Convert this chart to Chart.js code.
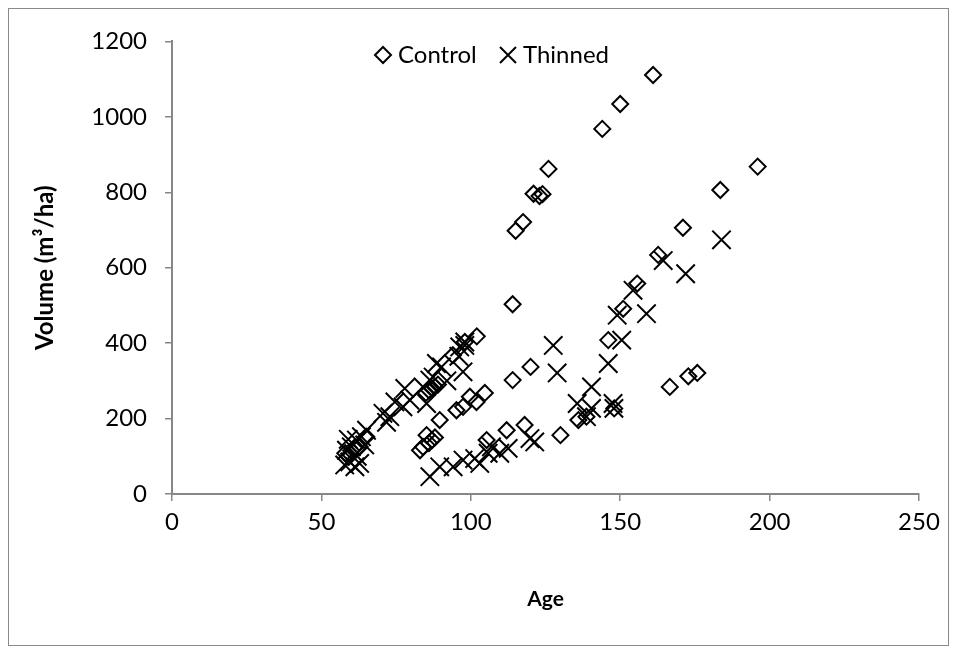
<!DOCTYPE html>
<html>
<head>
<meta charset="utf-8">
<script src="https://cdn.jsdelivr.net/npm/chart.js@4.4.1/dist/chart.umd.min.js"></script>
<style>
    html, body { margin: 0; padding: 0; background: #fff; }
    #frame { position: absolute; left: 8px; top: 8px; width: 939px; height: 636px; border: 1px solid #8a8a8a; }
    canvas { display: block; }
</style>
</head>
<body>
<div id="frame"><canvas id="chart" width="939" height="636"></canvas></div>
<script>
// Control stands (diamonds)
const controlAge = [161, 150, 144, 126, 121, 123, 124, 117.5, 115, 114, 102, 98,
    196, 183.5, 171, 162.7, 155.7, 151, 146, 148, 136, 138.7, 130, 166.6, 172.8, 175.8,
    120, 114, 104.7, 101.9, 99.7, 95.2, 97.4, 89.6, 94,
    85, 86, 87, 88, 89,
    112, 118, 105.3,
    85.2, 83, 84, 86, 87, 88,
    58, 59, 60, 61, 62.8, 65];
const controlVolume = [1111, 1034, 968, 862, 796, 790, 795, 721, 698, 503, 418, 403,
    868, 806, 706, 634, 558, 491, 408, 227, 196, 205, 156, 284, 312, 321,
    337, 302, 268, 244, 258, 222, 231, 196, 368,
    268, 275, 280, 284, 290,
    169, 183, 143,
    156, 116, 125, 135, 143, 150,
    108, 100, 115, 122, 125, 152];

// Thinned stands (crosses)
const thinnedAge = [57.8, 59.5, 61.2, 62.8, 58.4, 60, 61.7, 63.4, 65.1, 64.5, 59, 62,
    70.6, 72.9, 74.6, 77.9, 77.3, 79.6, 71.8,
    84, 85.2, 86.3, 87.4, 88.5, 90.2, 92, 96.3, 98, 97.4, 98, 96,
    86.3, 89.6, 94.1, 97.4, 101.3, 103, 105.8, 106.9, 109.7, 112.5, 119.8, 121.4,
    127.6, 128.9, 140.4, 135.6, 140.4, 138.7, 147.6, 147.9, 146, 150.5, 149, 158.8, 154.3, 164.4, 183.9, 171.9];
const thinnedVolume = [77, 85, 72, 81, 116, 125, 143, 152, 169, 130, 145, 100,
    214, 205, 244, 280, 231, 249, 190,
    284, 240, 302, 310, 346, 337, 300, 390, 394, 324, 403, 365,
    46, 72, 72, 90, 94, 81, 108, 125, 108, 121, 147, 138,
    394, 321, 284, 240, 227, 205, 240, 227, 346, 408, 474, 478, 540, 619, 674, 584];

const xTicks = [0, 50, 100, 150, 200, 250];
const yTicks = [0, 200, 400, 600, 800, 1000, 1200];

const toPoints = (xs, ys) => xs.map((x, i) => ({ x: x, y: ys[i] }));

const fontFamily = 'Lato, "Open Sans", sans-serif';
const axisGray = '#878787';

// Excel-style legend sitting inside the plot
const legendPlugin = {
    id: 'insideLegend',
    afterDraw(chart) {
        const ctx = chart.ctx;
        const y = 46;
        ctx.save();
        ctx.strokeStyle = '#000';
        ctx.lineWidth = 2;
        // diamond
        ctx.beginPath();
        ctx.moveTo(374 - 8, y);
        ctx.lineTo(374, y - 8);
        ctx.lineTo(374 + 8, y);
        ctx.lineTo(374, y + 8);
        ctx.closePath();
        ctx.stroke();
        // cross
        ctx.beginPath();
        ctx.moveTo(499 - 8, y - 8);
        ctx.lineTo(499 + 8, y + 8);
        ctx.moveTo(499 + 8, y - 8);
        ctx.lineTo(499 - 8, y + 8);
        ctx.stroke();
        ctx.fillStyle = '#000';
        ctx.font = '24px ' + fontFamily;
        ctx.textBaseline = 'middle';
        ctx.textAlign = 'left';
        ctx.fillText('Control', 389, y);
        ctx.fillText('Thinned', 514, y);
        ctx.restore();
    }
};

new Chart(document.getElementById('chart'), {
    type: 'scatter',
    data: {
        datasets: [
            {
                label: 'Control',
                data: toPoints(controlAge, controlVolume),
                pointStyle: 'rectRot',
                pointRadius: 8,
                borderWidth: 2,
                borderColor: '#000',
                backgroundColor: 'rgba(0,0,0,0)'
            },
            {
                label: 'Thinned',
                data: toPoints(thinnedAge, thinnedVolume),
                pointStyle: 'crossRot',
                pointRadius: 13,
                borderWidth: 2,
                borderColor: '#000',
                backgroundColor: 'rgba(0,0,0,0)'
            }
        ]
    },
    plugins: [legendPlugin],
    options: {
        responsive: false,
        animation: false,
        layout: { padding: { left: 0, right: 29, top: 32, bottom: 0 } },
        plugins: {
            legend: { display: false },
            tooltip: { enabled: false }
        },
        scales: {
            x: {
                type: 'linear',
                min: xTicks[0],
                max: xTicks[xTicks.length - 1],
                afterBuildTicks: s => { s.ticks = xTicks.map(v => ({ value: v })); },
                afterFit: s => { s.height = 151; },
                ticks: { color: '#000', font: { family: fontFamily, size: 24 }, padding: 7, callback: v => String(v) },
                grid: { drawOnChartArea: false, tickLength: 7, color: axisGray, lineWidth: 1.5 },
                border: { color: axisGray, width: 2 },
                title: {
                    display: true, text: 'Age', color: '#000',
                    font: { family: fontFamily, size: 21, weight: 'bold' },
                    padding: { top: 0, bottom: 33 }
                }
            },
            y: {
                type: 'linear',
                min: yTicks[0],
                max: yTicks[yTicks.length - 1],
                afterBuildTicks: s => { s.ticks = yTicks.map(v => ({ value: v })); },
                afterFit: s => { s.width = 163; },
                ticks: { color: '#000', font: { family: fontFamily, size: 24 }, padding: 18, callback: v => String(v) },
                grid: { drawOnChartArea: false, tickLength: 7, color: axisGray, lineWidth: 1.5 },
                border: { color: axisGray, width: 2 },
                title: {
                    display: true, text: 'Volume (m³/ha)', color: '#000',
                    font: { family: fontFamily, size: 24, weight: 'bold' },
                    padding: { top: 22, bottom: 0 }
                }
            }
        }
    }
});
</script>
</body>
</html>
